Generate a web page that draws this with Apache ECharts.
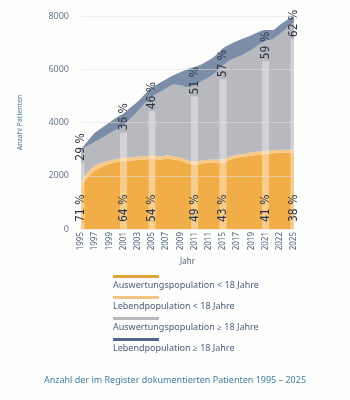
<!DOCTYPE html>
<html lang="de">
  <head>
    <meta charset="UTF-8" />
    <title>Anzahl Patienten</title>
    <script src="https://cdn.jsdelivr.net/npm/echarts@6/dist/echarts.min.js"></script>
    <style>
      html,
      body {
        margin: 0;
        height: 100%;
        background: #fdfdfb;
      }
    </style>
  </head>
  <body>
    <div id="chart" style="width:350px;height:400px"></div>
    <script>
      // Jahre 1995 - 2025
      var years = [];
      for (var y = 1995; y <= 2025; y++) years.push(String(y));

      // Beschriftung der x-Achse (so wie im Original, jedes zweite Jahr)
      var tickLabels = ["1995", "1997", "1999", "2001", "2003", "2005", "2007", "2009",
        "2011", "2011", "2015", "2017", "2019", "2021", "2022", "2025"];

      var seriesNames = [
        "Auswertungspopulation < 18 Jahre",
        "Lebendpopulation < 18 Jahre",
        "Auswertungspopulation \u2265 18 Jahre",
        "Lebendpopulation \u2265 18 Jahre"
      ];
      var colors = ["#f1ae48", "#f7c886", "#b8b9be", "#7b8da7"];
      var legendColors = ["#e2a43e", "#f2c585", "#b9babe", "#52668a"];

      // gestapelte Werte (Anteil je Serie)
      var auswertungKinder = [1600, 1950, 2200, 2340, 2440, 2520, 2560, 2570, 2600, 2610,
        2640, 2610, 2640, 2610, 2570, 2460, 2420, 2460, 2490, 2490, 2490, 2600, 2680,
        2720, 2750, 2790, 2830, 2840, 2870, 2870, 2880];
      var lebendKinder = [170, 200, 180, 150, 130, 120, 120, 120, 120, 120, 120, 120, 120,
        120, 120, 120, 120, 110, 110, 120, 120, 120, 110, 110, 120, 120, 110, 110, 110,
        110, 110];
      var auswertungErw = [1210, 980, 900, 940, 1020, 1100, 1240, 1460, 1700, 1990, 2220,
        2400, 2520, 2700, 2710, 2740, 2860, 2980, 3100, 3280, 3540, 3620, 3660, 3740,
        3850, 4000, 4120, 4180, 4340, 4570, 4780];
      var lebendErw = [0, 190, 340, 380, 410, 450, 420, 420, 370, 340, 340, 340, 340, 340,
        490, 680, 680, 640, 640, 640, 640, 600, 610, 600, 560, 490, 410, 340, 340, 300,
        230];
      var values = [auswertungKinder, lebendKinder, auswertungErw, lebendErw];

      // hervorgehobene Jahre mit Prozentangaben
      var hlYears = ["1995", "2001", "2005", "2011", "2015", "2021", "2025"];
      var hlHeights = [2490, 3620, 4420, 4980, 5620, 6300, 7130];
      var adultPct = [29, 36, 46, 51, 57, 59, 62];
      var childPct = [71, 64, 54, 49, 43, 41, 38];

      var barData = years.map(function(y) {
        var i = hlYears.indexOf(y);
        return i < 0 ? "-" : hlHeights[i];
      });

      var pctLabel = {
        show: true,
        rotate: 90,
        align: "left",
        verticalAlign: "middle",
        fontFamily: "DejaVu Sans Condensed",
        fontSize: 12,
        color: "#2f3540"
      };

      var series = seriesNames.map(function(name, i) {
        return {
          name: name,
          type: "line",
          stack: "all",
          data: values[i],
          smooth: 0.3,
          symbol: "none",
          lineStyle: { width: 0 },
          areaStyle: { color: colors[i], opacity: 1 },
          itemStyle: { color: colors[i] },
          z: 2
        };
      });

      series.push({
        type: "bar",
        data: barData,
        barWidth: 7,
        itemStyle: { color: "rgba(255,255,255,0.38)" },
        label: Object.assign({}, pctLabel, {
          position: "top",
          distance: 2,
          formatter: function(p) {
            return adultPct[hlYears.indexOf(p.name)] + " %";
          }
        }),
        z: 3
      });
      series.push({
        type: "bar",
        data: barData,
        barWidth: 7,
        barGap: "-100%",
        itemStyle: { color: "transparent" },
        label: Object.assign({}, pctLabel, {
          position: "insideBottom",
          distance: 7,
          formatter: function(p) {
            return childPct[hlYears.indexOf(p.name)] + " %";
          }
        }),
        z: 4
      });

      // Legende: Linie über dem Text
      var legendItems = [];
      seriesNames.forEach(function(name, i) {
        legendItems.push({
          type: "rect",
          shape: { x: 0, y: i * 21, width: 46, height: 3 },
          style: { fill: legendColors[i] }
        });
        legendItems.push({
          type: "text",
          x: 0,
          y: i * 21 + 6,
          style: {
            text: name,
            font: "9px 'Noto Sans'",
            fill: "#4e6080"
          }
        });
      });

      var option = {
        backgroundColor: "#fdfdfb",
        animation: false,
        title: {
          text: "Anzahl der im Register dokumentierten Patienten 1995 \u2013 2025",
          left: "center",
          top: 371,
          textStyle: {
            fontFamily: "Noto Sans",
            fontSize: 9,
            fontWeight: "normal",
            color: "#3f7ea3"
          }
        },
        grid: { left: 81, right: 56, top: 16, bottom: 171 },
        xAxis: {
          type: "category",
          data: years,
          boundaryGap: false,
          name: "Jahr",
          nameLocation: "middle",
          nameGap: 26,
          nameTextStyle: { fontFamily: "Noto Sans", fontSize: 8, color: "#4e5f7a" },
          axisLine: { show: false },
          axisTick: { show: false },
          axisLabel: {
            interval: 1,
            rotate: 90,
            margin: 3,
            fontFamily: "Noto Sans",
            fontSize: 8,
            color: "#4e5f7a",
            formatter: function(v, idx) {
              return tickLabels[idx / 2];
            }
          }
        },
        yAxis: {
          type: "value",
          min: 0,
          max: 8000,
          interval: 2000,
          z: 5,
          name: "Anzahl Patienten",
          nameLocation: "middle",
          nameGap: 58,
          nameTextStyle: { fontFamily: "Noto Sans", fontSize: 7, color: "#3f7c9e" },
          axisLine: { show: false },
          axisTick: { show: false },
          axisLabel: {
            margin: 12,
            fontFamily: "Noto Sans",
            fontSize: 9,
            color: "#6a7a90",
            formatter: function(v) {
              return String(v);
            }
          },
          splitLine: { lineStyle: { color: "rgba(225,225,228,0.55)", width: 1 } }
        },
        graphic: [{ type: "group", left: 113, top: 275, children: legendItems }],
        series: series
      };

      var chart = echarts.init(document.getElementById("chart"));
      chart.setOption(option);
    </script>
  </body>
</html>
